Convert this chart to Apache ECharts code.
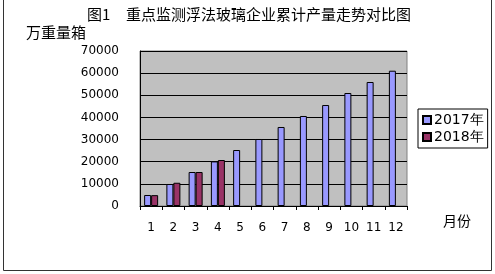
<!DOCTYPE html>
<html><head><meta charset="utf-8">
<script src="https://cdn.jsdelivr.net/npm/echarts@6/dist/echarts.min.js"></script>
<style>html,body{margin:0;padding:0;background:#fff}#c{width:495px;height:274px}</style>
</head><body><div id="c"></div>
<script>
const months = ['1','2','3','4','5','6','7','8','9','10','11','12'];
const seriesNames = ['2017年','2018年'];
const values2017 = [4970, 9940, 15350, 20140, 25290, 30260, 35680, 40650, 45600, 51030, 56000, 61100];
const values2018 = [4900, 10500, 15350, 20770, null, null, null, null, null, null, null, null];
const yTicks = [0, 10000, 20000, 30000, 40000, 50000, 60000, 70000];
const titleText = '图1';
const titleMain = '重点监测浮法玻璃企业累计产量走势对比图';
const yName = '万重量箱';
const xName = '月份';

const cjk = '"Noto Sans CJK SC", sans-serif';
const num = '"DejaVu Sans", sans-serif';
const chart = echarts.init(document.getElementById('c'), null, {renderer:'canvas'});
chart.setOption({
  animation: false,
  backgroundColor: '#fff',
  grid: {left: 140, top: 51, width: 267, height: 155, show: true, backgroundColor: '#C0C0C0', borderColor: '#808080', borderWidth: 1},
  xAxis: {
    type: 'category', data: months,
    axisLine: {lineStyle: {color: '#000', width: 1}},
    axisTick: {show: true, length: 4, lineStyle: {color: '#000'}},
    axisLabel: {color: '#000', fontFamily: num, fontSize: 12, margin: 16}
  },
  yAxis: {
    type: 'value', min: yTicks[0], max: yTicks[yTicks.length-1], interval: 10000,
    axisLine: {show: true, lineStyle: {color: '#000', width: 1}},
    axisTick: {show: false},
    splitLine: {lineStyle: {color: '#000', width: 1}},
    axisLabel: {color: '#000', fontFamily: num, fontSize: 12, margin: 21, formatter: v => String(v)}
  },
  legend: {
    orient: 'vertical', left: 418, top: 109,
    padding: [4, 4, 4, 4], itemGap: 3, itemWidth: 8, itemHeight: 8,
    borderColor: '#000', borderWidth: 1, backgroundColor: '#fff',
    icon: 'rect',
    textStyle: {color: '#000', fontFamily: num, fontSize: 14, lineHeight: 14, padding: [0,0,0,-2]},
    data: seriesNames
  },
  series: [
    {name: seriesNames[0], type: 'bar', data: values2017, barWidth: 7, barGap: '0%',
     itemStyle: {color: '#9999FF', borderColor: '#000', borderWidth: 1}},
    {name: seriesNames[1], type: 'bar', data: values2018, barWidth: 7, barGap: '0%',
     itemStyle: {color: '#993366', borderColor: '#000', borderWidth: 1}}
  ],
  graphic: [
    {type: 'rect', shape: {x: 3.5, y: -2, width: 488, height: 272.5}, style: {fill: null, stroke: '#333', lineWidth: 1}, silent: true},
    {type: 'text', left: 87, top: 7, style: {text: titleText, font: '15px ' + cjk, fill: '#000'}},
    {type: 'text', left: 126, top: 7, style: {text: titleMain, font: '15px ' + cjk, fill: '#000'}},
    {type: 'text', left: 26, top: 25, style: {text: yName, font: '15px ' + cjk, fill: '#000'}},
    {type: 'text', left: 443, top: 214, style: {text: xName, font: '14px ' + cjk, fill: '#000'}}
  ]
});
</script></body></html>
